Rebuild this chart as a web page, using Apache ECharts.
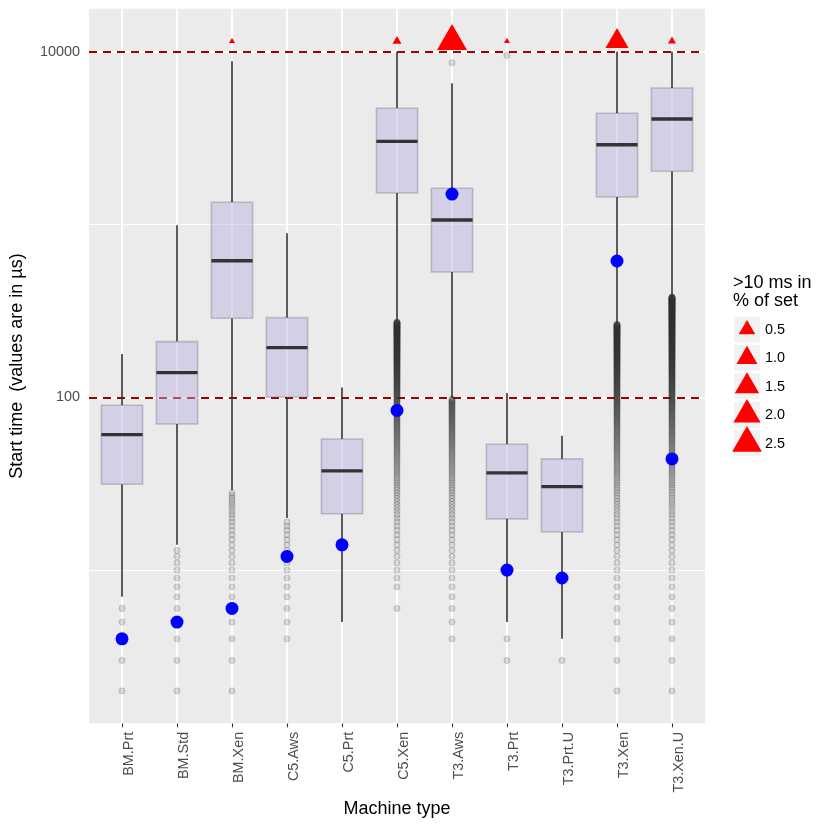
<!DOCTYPE html>
<html><head><meta charset="utf-8">
<script src="https://cdn.jsdelivr.net/npm/echarts@6/dist/echarts.min.js"></script>
<style>html,body{margin:0;padding:0;background:#fff}#c{width:830px;height:830px}</style>
</head><body><div id="c"></div>
<script>
const categories = ['BM.Prt','BM.Std','BM.Xen','C5.Aws','C5.Prt','C5.Xen','T3.Aws','T3.Prt','T3.Prt.U','T3.Xen','T3.Xen.U'];
const whiskerLow  = [7, 14, 29, 20, 5, 274, 99, 5, 4, 266, 382];
const q1          = [31.4, 70, 287, 100, 21.2, 1521, 531, 19.8, 16.6, 1442, 2032];
const median      = [60.8, 139, 617, 194, 37.5, 3030, 1062, 36.5, 30.4, 2895, 4078];
const q3          = [90, 210, 1344, 289, 57.4, 4704, 1620, 53.5, 44, 4400, 6166];
const whiskerHigh = [178, 990, 8800, 889, 114, 9990, 6560, 106, 60, 9990, 9990];
const blueValue   = [4, 5, 6, 12, 14, 84, 1500, 10, 9, 615, 44];
const overPct     = [null, null, 0.01, null, null, 0.05, 2.55, 0.01, null, 1.3, 0.03];
const overMarkY   = 11500;
const legendBreaks = [0.5, 1.0, 1.5, 2.0, 2.5];
const yTickValues = [100, 10000];
const minorGridY  = [10, 1000];
const thresholdY  = [100, 10000];

const outBMPrt = [2,3,4,5,6];
const outBMStd = [2,3,4,5,6,7,8,9,10,11,12,13];
const outBMXen = [2,3,4,5,6,7,8,9,10,11,12,13,14,15,16,17,18,19,20,21,22,23,24,25,26,27,28];
const outC5Aws = [4,5,6,7,8,9,10,11,12,13,14,15,16,17,18,19];
const outC5Prt = [];
const outC5Xen = [6,8,9,
10,11,12,13,14,15,16,17,18,19,
20,21,22,23,24,25,26,27,28,29,
30,31,32,33,34,35,36,37,38,39,
40,41,42,43,44,45,46,47,48,49,
50,51,52,53,54,55,56,57,58,59,
60,61,62,63,64,65,66,67,68,69,
70,71,72,73,74,75,76,77,78,79,
80,81,82,83,84,85,86,87,88,89,
90,91,92,93,94,95,96,97,98,99,
100,101,102,103,104,105,106,107,108,109,
110,111,112,113,114,115,116,117,118,119,
120,121,122,123,124,125,126,127,128,129,
130,131,132,133,134,135,136,137,138,139,
140,141,142,143,144,145,146,147,148,149,
150,151,152,153,154,155,156,157,158,159,
160,161,162,163,164,165,166,167,168,169,
170,171,172,173,174,175,176,177,178,179,
180,181,182,183,184,185,186,187,188,189,
190,191,192,193,194,195,196,197,198,199,
200,201,202,203,204,205,206,207,208,209,
210,211,212,213,214,215,216,217,218,219,
220,221,222,223,224,225,226,227,228,229,
230,231,232,233,234,235,236,237,238,239,
240,241,242,243,244,245,246,247,248,249,
250,251,252,253,254,255,256,257,258,259,
260,261,262,263,264,265,266,267,268,269,
270,271,272,273];
const outT3Aws = [4,5,6,7,8,9,
10,11,12,13,14,15,16,17,18,19,
20,21,22,23,24,25,26,27,28,29,
30,31,32,33,34,35,36,37,38,39,
40,41,42,43,44,45,46,47,48,49,
50,51,52,53,54,55,56,57,58,59,
60,61,62,63,64,65,66,67,68,69,
70,71,72,73,74,75,76,77,78,79,
80,81,82,83,84,85,86,87,88,89,
90,91,92,93,94,95,96,97,98,
8630];
const outT3Prt = [3,4,9530];
const outT3PrtU = [3];
const outT3Xen = [2,3,4,5,6,7,8,9,
10,11,12,13,14,15,16,17,18,19,
20,21,22,23,24,25,26,27,28,29,
30,31,32,33,34,35,36,37,38,39,
40,41,42,43,44,45,46,47,48,49,
50,51,52,53,54,55,56,57,58,59,
60,61,62,63,64,65,66,67,68,69,
70,71,72,73,74,75,76,77,78,79,
80,81,82,83,84,85,86,87,88,89,
90,91,92,93,94,95,96,97,98,99,
100,101,102,103,104,105,106,107,108,109,
110,111,112,113,114,115,116,117,118,119,
120,121,122,123,124,125,126,127,128,129,
130,131,132,133,134,135,136,137,138,139,
140,141,142,143,144,145,146,147,148,149,
150,151,152,153,154,155,156,157,158,159,
160,161,162,163,164,165,166,167,168,169,
170,171,172,173,174,175,176,177,178,179,
180,181,182,183,184,185,186,187,188,189,
190,191,192,193,194,195,196,197,198,199,
200,201,202,203,204,205,206,207,208,209,
210,211,212,213,214,215,216,217,218,219,
220,221,222,223,224,225,226,227,228,229,
230,231,232,233,234,235,236,237,238,239,
240,241,242,243,244,245,246,247,248,249,
250,251,252,253,254,255,256,257,258,259,
260,261,262,263,264,265];
const outT3XenU = [2,3,4,5,6,7,8,9,
10,11,12,13,14,15,16,17,18,19,
20,21,22,23,24,25,26,27,28,29,
30,31,32,33,34,35,36,37,38,39,
40,41,42,43,44,45,46,47,48,49,
50,51,52,53,54,55,56,57,58,59,
60,61,62,63,64,65,66,67,68,69,
70,71,72,73,74,75,76,77,78,79,
80,81,82,83,84,85,86,87,88,89,
90,91,92,93,94,95,96,97,98,99,
100,101,102,103,104,105,106,107,108,109,
110,111,112,113,114,115,116,117,118,119,
120,121,122,123,124,125,126,127,128,129,
130,131,132,133,134,135,136,137,138,139,
140,141,142,143,144,145,146,147,148,149,
150,151,152,153,154,155,156,157,158,159,
160,161,162,163,164,165,166,167,168,169,
170,171,172,173,174,175,176,177,178,179,
180,181,182,183,184,185,186,187,188,189,
190,191,192,193,194,195,196,197,198,199,
200,201,202,203,204,205,206,207,208,209,
210,211,212,213,214,215,216,217,218,219,
220,221,222,223,224,225,226,227,228,229,
230,231,232,233,234,235,236,237,238,239,
240,241,242,243,244,245,246,247,248,249,
250,251,252,253,254,255,256,257,258,259,
260,261,262,263,264,265,266,267,268,269,
270,271,272,273,274,275,276,277,278,279,
280,281,282,283,284,285,286,287,288,289,
290,291,292,293,294,295,296,297,298,299,
300,301,302,303,304,305,306,307,308,309,
310,311,312,313,314,315,316,317,318,319,
320,321,322,323,324,325,326,327,328,329,
330,331,332,333,334,335,336,337,338,339,
340,341,342,343,344,345,346,347,348,349,
350,351,352,353,354,355,356,357,358,359,
360,361,362,363,364,365,366,367,368,369,
370,371,372,373,374,375,376,377,378,379,
380,381];
const outliersByCategory = [outBMPrt, outBMStd, outBMXen, outC5Aws, outC5Prt, outC5Xen, outT3Aws, outT3Prt, outT3PrtU, outT3Xen, outT3XenU];

const FONT = 'Liberation Sans, Arial, Helvetica, sans-serif';
const idx = categories.map((c, i) => i);

// size scale (area-proportional, like ggplot scale_size)
const pctVals = overPct.filter(v => v != null);
const pMin = Math.min(...pctVals), pMax = Math.max(...pctVals);
function triWidth(p) {
  const t = Math.max(0, (p - pMin) / (pMax - pMin));
  return 6 + 24 * Math.sqrt(t);
}

const boxData = categories.map((c, i) => [i, whiskerLow[i], q1[i], median[i], q3[i], whiskerHigh[i]]);
const outlierData = [];
outliersByCategory.forEach((arr, i) => arr.forEach(v => outlierData.push([i, v])));
const blueData = categories.map((c, i) => [i, blueValue[i]]);
const triData = [];
overPct.forEach((p, i) => {
  if (p == null) return;
  const w = triWidth(p), h = w * 0.866;
  triData.push({ value: [i, overMarkY, p], symbolSize: [w, h], symbolOffset: [0, -h / 6] });
});

// legend (drawn as graphic elements)
const legendGraphics = [];
legendGraphics.push({ type: 'text', x: 733, y: 292, style: { text: '>10 ms in\n% of set', font: '18px ' + FONT, fill: '#000', align: 'left', verticalAlign: 'middle', lineHeight: 18.5 } });
legendBreaks.forEach((b, k) => {
  const cy = 329.5 + k * 28.4, cx = 747;
  const w = triWidth(b), h = w * 0.866;
  legendGraphics.push({ type: 'rect', shape: { x: 734, y: cy - 13, width: 26, height: 26 }, style: { fill: '#F2F2F2' } });
  legendGraphics.push({ type: 'polygon', shape: { points: [[cx, cy - 2 * h / 3], [cx + w / 2, cy + h / 3], [cx - w / 2, cy + h / 3]] }, style: { fill: '#FF0000' } });
  legendGraphics.push({ type: 'text', x: 765, y: cy + 0.5, style: { text: b.toFixed(1), font: '14.4px ' + FONT, fill: '#000', align: 'left', verticalAlign: 'middle' } });
});

const chart = echarts.init(document.getElementById('c'), null, { renderer: 'canvas' });
chart.setOption({
  animation: false,
  backgroundColor: '#FFFFFF',
  grid: { left: 89, right: 125, top: 8.7, bottom: 106.7, show: true, backgroundColor: '#EBEBEB', borderWidth: 0 },
  xAxis: {
    type: 'value', min: -0.6, max: 10.6,
    name: 'Machine type', nameLocation: 'middle', nameGap: 76,
    nameTextStyle: { fontSize: 18, color: '#000', fontFamily: FONT },
    axisLine: { show: false },
    splitLine: { show: false },
    axisTick: { show: true, customValues: idx, length: 4, lineStyle: { color: '#333', width: 1.1 } },
    axisLabel: { customValues: idx, rotate: 90, margin: 8.5, fontSize: 14.4, color: '#4D4D4D', fontFamily: FONT,
      verticalAlign: 'top', lineHeight: 15,
      formatter: v => categories[Math.round(v)] }
  },
  yAxis: {
    type: 'log', logBase: 10, min: 1.2984, max: 17738,
    name: 'Start time  (values are in µs)', nameLocation: 'middle', nameGap: 63,
    nameTextStyle: { fontSize: 18, color: '#000', fontFamily: FONT },
    axisLine: { show: false },
    splitLine: { show: false },
    minorSplitLine: { show: false },
    axisTick: { show: true, customValues: yTickValues, length: 4, lineStyle: { color: '#333', width: 1.1 } },
    axisLabel: { customValues: yTickValues, margin: 9, fontSize: 14.4, color: '#4D4D4D', fontFamily: FONT,
      formatter: v => String(Math.round(v)) }
  },
  graphic: legendGraphics,
  series: [
    { // panel grid lines
      type: 'scatter', data: [], silent: true,
      markLine: {
        z: 1, silent: true, symbol: 'none', animation: false, label: { show: false },
        emphasis: { disabled: true },
        data: [
          ...idx.map(i => ({ xAxis: i, lineStyle: { color: '#FFFFFF', width: 2, type: 'solid', opacity: 1 } })),
          ...minorGridY.map(v => ({ yAxis: v, lineStyle: { color: '#FFFFFF', width: 1, type: 'solid', opacity: 1 } })),
          ...thresholdY.map(v => ({ yAxis: v, lineStyle: { color: '#FFFFFF', width: 2, type: 'solid', opacity: 1 } }))
        ]
      }
    },
    { // threshold dashed lines
      type: 'scatter', data: [], silent: true,
      markLine: {
        z: 1.5, silent: true, symbol: 'none', animation: false, label: { show: false },
        emphasis: { disabled: true },
        data: thresholdY.map(v => ({ yAxis: v, lineStyle: { color: '#A00000', width: 2.2, type: [8, 6], opacity: 1 } }))
      }
    },
    { // outliers
      type: 'scatter', z: 2, silent: true, data: outlierData, symbol: 'circle', symbolSize: 6.2,
      progressive: 0, large: false,
      itemStyle: { color: 'rgba(51,51,51,0.17)', borderColor: 'rgba(51,51,51,0.17)', borderWidth: 1, opacity: 1 }
    },
    { // boxes
      type: 'custom', z: 3, silent: true, data: boxData,
      encode: { x: 0, y: [1, 2, 3, 4, 5] },
      renderItem: function (params, api) {
        const i = api.value(0);
        const pLow = api.coord([i, api.value(1)]);
        const pQ1 = api.coord([i, api.value(2)]);
        const pMed = api.coord([i, api.value(3)]);
        const pQ3 = api.coord([i, api.value(4)]);
        const pHigh = api.coord([i, api.value(5)]);
        const hw = api.coord([i + 0.375, api.value(3)])[0] - pMed[0];
        const cx = pMed[0];
        return {
          type: 'group',
          children: [
            { type: 'line', shape: { x1: cx, y1: pQ3[1], x2: cx, y2: pHigh[1] }, style: { stroke: '#333333', lineWidth: 1.6 } },
            { type: 'line', shape: { x1: cx, y1: pLow[1], x2: cx, y2: pQ1[1] }, style: { stroke: '#333333', lineWidth: 1.6 } },
            { type: 'rect', shape: { x: cx - hw, y: pQ3[1], width: 2 * hw, height: pQ1[1] - pQ3[1] },
              style: { fill: 'rgba(182,175,224,0.45)', stroke: 'rgba(60,60,80,0.25)', lineWidth: 1.6 } },
            { type: 'line', shape: { x1: cx - hw, y1: pMed[1], x2: cx + hw, y2: pMed[1] }, style: { stroke: '#333333', lineWidth: 3.3 } }
          ]
        };
      }
    },
    { // blue markers
      type: 'scatter', z: 4, silent: true, data: blueData, symbol: 'circle', symbolSize: 13,
      itemStyle: { color: '#0000FF', opacity: 1 }
    },
    { // >10 ms share triangles
      type: 'scatter', z: 5, silent: true, data: triData, symbol: 'triangle',
      itemStyle: { color: '#FF0000', opacity: 1 }
    }
  ]
});
</script>
</body></html>
